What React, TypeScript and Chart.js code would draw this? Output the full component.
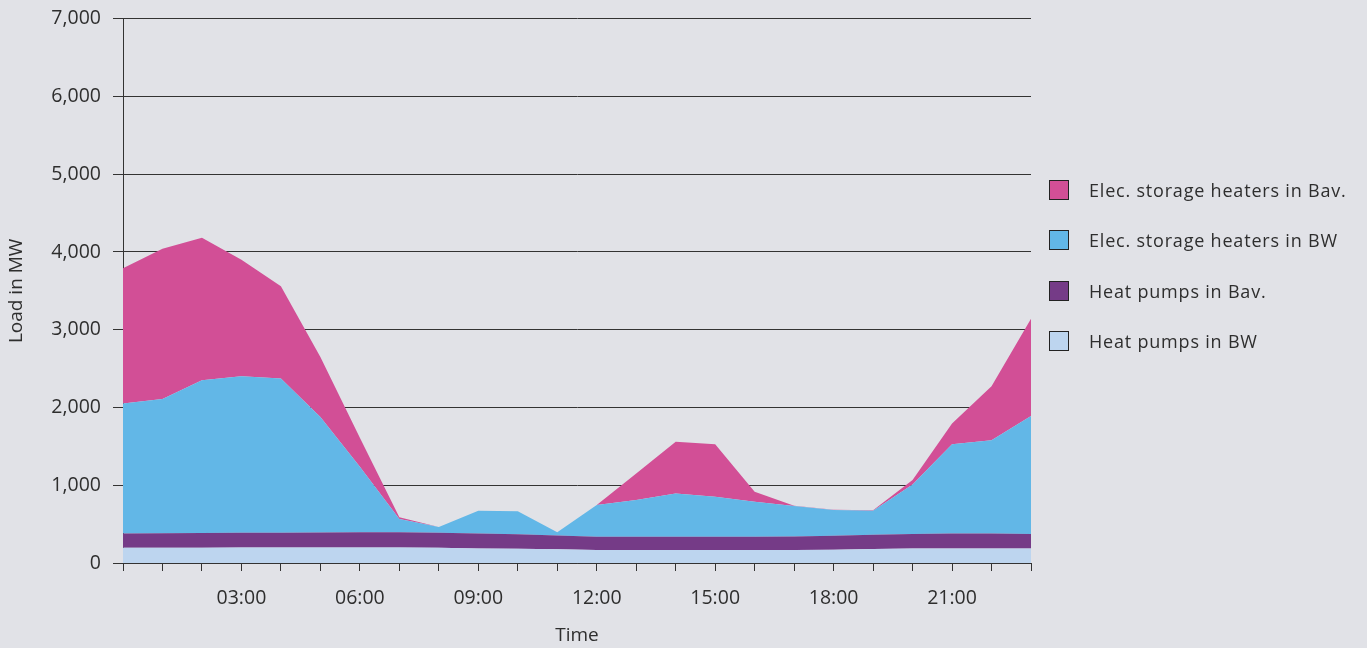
import React, { useEffect, useRef } from "react";
import { Chart, registerables } from "chart.js";

Chart.register(...registerables);

const hours = Array.from({ length: 24 }, (_, i) => `${String(i).padStart(2, "0")}:00`);
const heatPumpsBW = [195, 195, 196, 198, 198, 198, 200, 200, 195, 188, 182, 176, 168, 168, 168, 168, 168, 168, 170, 180, 188, 188, 188, 188];
const heatPumpsBav = [186, 188, 189, 191, 192, 194, 194, 194, 195, 193, 188, 179, 170, 170, 170, 170, 170, 172, 181, 184, 184, 193, 193, 184];
const elecBW = [1670, 1727, 1965, 2013, 1982, 1487, 843, 171, 72, 291, 294, 39, 407, 471, 557, 514, 449, 392, 330, 308, 638, 1147, 1199, 1520];
const elecBav = [1739, 1932, 1833, 1498, 1186, 771, 373, 25, 0, 0, 0, 0, 0, 343, 663, 676, 129, 3, 5, 5, 56, 266, 693, 1250];
const yTicks = [0, 1000, 2000, 3000, 4000, 5000, 6000, 7000];
const shownLabels = ["03:00", "06:00", "09:00", "12:00", "15:00", "18:00", "21:00"];

const COLORS = {
  elecBav: "#D24F96",
  elecBW: "#62B7E7",
  hpBav: "#753B87",
  hpBW: "#BDD5EF",
};
const BG = "#E1E2E7";
const TEXT = "#2E2E2E";
const FONT = "'Open Sans', 'DejaVu Sans', sans-serif";

const legendItems = [
  { label: "Elec. storage heaters in Bav.", color: COLORS.elecBav },
  { label: "Elec. storage heaters in BW", color: COLORS.elecBW },
  { label: "Heat pumps in Bav.", color: COLORS.hpBav },
  { label: "Heat pumps in BW", color: COLORS.hpBW },
];

export default function App() {
  const ref = useRef<HTMLCanvasElement | null>(null);

  useEffect(() => {
    document.body.style.margin = "0";
    document.body.style.background = BG;
    const canvas = ref.current;
    if (!canvas) return;
    const mk = (label: string, data: number[], color: string, fill: any) => ({
      label,
      data,
      backgroundColor: color,
      borderColor: color,
      borderWidth: 0,
      pointRadius: 0,
      tension: 0,
      fill,
    });
    const chart = new Chart(canvas, {
      type: "line",
      data: {
        labels: hours,
        datasets: [
          mk("Heat pumps in BW", heatPumpsBW, COLORS.hpBW, "origin"),
          mk("Heat pumps in Bav.", heatPumpsBav, COLORS.hpBav, "-1"),
          mk("Elec. storage heaters in BW", elecBW, COLORS.elecBW, "-1"),
          mk("Elec. storage heaters in Bav.", elecBav, COLORS.elecBav, "-1"),
        ],
      },
      options: {
        animation: false,
        responsive: false,
        maintainAspectRatio: false,
        layout: { padding: { top: 18, right: 336, left: 0, bottom: 0 } },
        plugins: { legend: { display: false }, tooltip: { enabled: false } },
        scales: {
          x: {
            type: "category",
            offset: false,
            afterFit: (s: any) => {
              s.height = 85;
            },
            grid: {
              drawOnChartArea: false,
              drawTicks: true,
              tickLength: 8,
              color: "#333",
              lineWidth: 1,
            },
            border: { display: true, color: "#333", width: 1 },
            ticks: {
              autoSkip: false,
              maxRotation: 0,
              padding: 16,
              color: TEXT,
              font: { family: FONT, size: 19.5 },
              callback: (_v: any, i: number) => (shownLabels.includes(hours[i]) ? hours[i] : ""),
            },
            title: {
              display: true,
              text: "Time",
              color: TEXT,
              font: { family: FONT, size: 19 },
              padding: { top: 0, bottom: 1 },
            },
          },
          y: {
            stacked: true,
            min: 0,
            max: 7000,
            afterFit: (s: any) => {
              s.width = 123;
            },
            afterBuildTicks: (s: any) => {
              s.ticks = yTicks.map((v) => ({ value: v }));
            },
            grid: {
              color: "#333",
              lineWidth: 1,
              drawTicks: true,
              tickLength: 10,
            },
            border: { display: true, color: "#333", width: 1 },
            ticks: {
              padding: 12,
              color: TEXT,
              font: { family: FONT, size: 19.5, lineHeight: 0.69 },
              callback: (v: any) => Number(v).toLocaleString("en-US"),
            },
            title: {
              display: true,
              text: "Load in MW",
              color: TEXT,
              font: { family: FONT, size: 19 },
              padding: { top: 5, bottom: 0 },
            },
          },
        },
      },
    });
    return () => chart.destroy();
  }, []);

  return (
    <div style={{ position: "relative", width: 1367, height: 648, background: BG, overflow: "hidden" }}>
      <canvas ref={ref} width={1367} height={648} style={{ display: "block" }} />
      {legendItems.map((it, i) => (
        <div
          key={it.label}
          style={{
            position: "absolute",
            left: 1049,
            top: 190 + i * 50.3 - 12,
            height: 24,
            display: "flex",
            alignItems: "center",
            fontFamily: FONT,
            fontSize: 18,
            letterSpacing: "0.8px",
            color: TEXT,
            whiteSpace: "nowrap",
          }}
        >
          <span
            style={{
              display: "inline-block",
              width: 18,
              height: 18,
              background: it.color,
              border: "1px solid #222",
              marginRight: 20,
            }}
          />
          <span>{it.label}</span>
        </div>
      ))}
    </div>
  );
}
